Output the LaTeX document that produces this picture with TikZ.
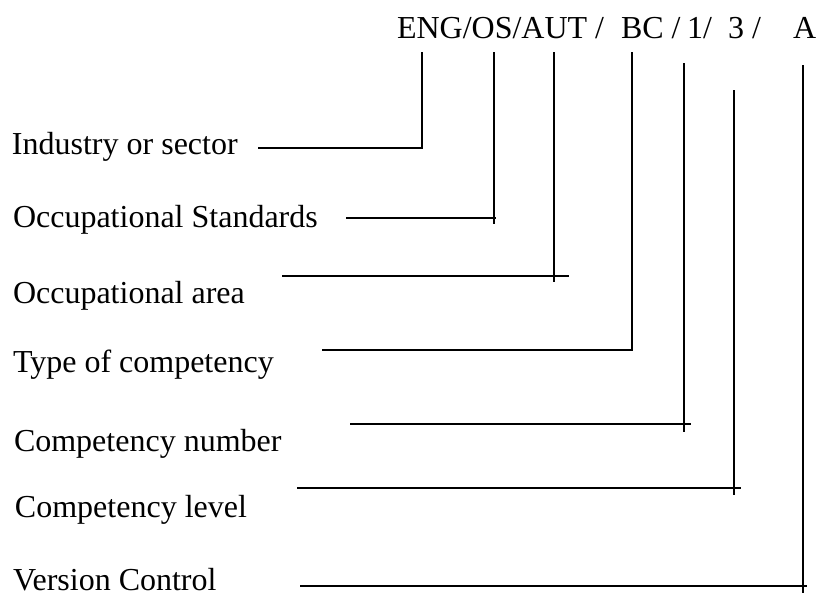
\documentclass[tikz,border=0pt]{standalone}
\usepackage{fontspec}
\setmainfont{Liberation Serif}
\begin{document}
\begin{tikzpicture}[x=0.75pt,y=-0.75pt,
  lbl/.style={anchor=base west,inner sep=0pt,outer sep=0pt,font=\fontsize{24}{28}\selectfont},
  conn/.style={line width=1.4pt,line cap=butt}]
\useasboundingbox (0,0) rectangle (818,604);
% code parts
\node[lbl] (c1) at (397,38) {ENG/OS/AUT /};
\node[lbl] (c2) at (621,38) {BC /};
\node[lbl] (c3) at (687,38) {1/};
\node[lbl] (c4) at (728,38) {3 /};
\node[lbl] (c5) at (793,38) {A};
% labels
\node[lbl] (l1) at (12,154) {Industry or sector};
\node[lbl] (l2) at (13,227) {Occupational Standards};
\node[lbl] (l3) at (13,303) {Occupational area};
\node[lbl] (l4) at (13,372) {Type of competency};
\node[lbl] (l5) at (14,451) {Competency number};
\node[lbl] (l6) at (15,517) {Competency level};
\node[lbl] (l7) at (13,590) {Version Control};
% coordinates
\coordinate (h1a) at (258,148); \coordinate (h1b) at (423,148);
\coordinate (v1a) at (422,52);  \coordinate (v1b) at (422,149);
\coordinate (h2a) at (346,218); \coordinate (h2b) at (496,218);
\coordinate (v2a) at (494,52);  \coordinate (v2b) at (494,224);
\coordinate (h3a) at (282,276); \coordinate (h3b) at (569,276);
\coordinate (v3a) at (554,52);  \coordinate (v3b) at (554,282);
\coordinate (h4a) at (322,350); \coordinate (h4b) at (633,350);
\coordinate (v4a) at (632,52);  \coordinate (v4b) at (632,351);
\coordinate (h5a) at (350,424); \coordinate (h5b) at (691,424);
\coordinate (v5a) at (684,63);  \coordinate (v5b) at (684,432);
\coordinate (h6a) at (297,488); \coordinate (h6b) at (741,488);
\coordinate (v6a) at (734,90);  \coordinate (v6b) at (734,495);
\coordinate (h7a) at (300,586); \coordinate (h7b) at (807,586);
\coordinate (v7a) at (803,65);  \coordinate (v7b) at (803,593);
\foreach \i in {1,...,7}{
  \draw[conn] (h\i a) -- (h\i b);
  \draw[conn] (v\i a) -- (v\i b);
}
\end{tikzpicture}
\end{document}
